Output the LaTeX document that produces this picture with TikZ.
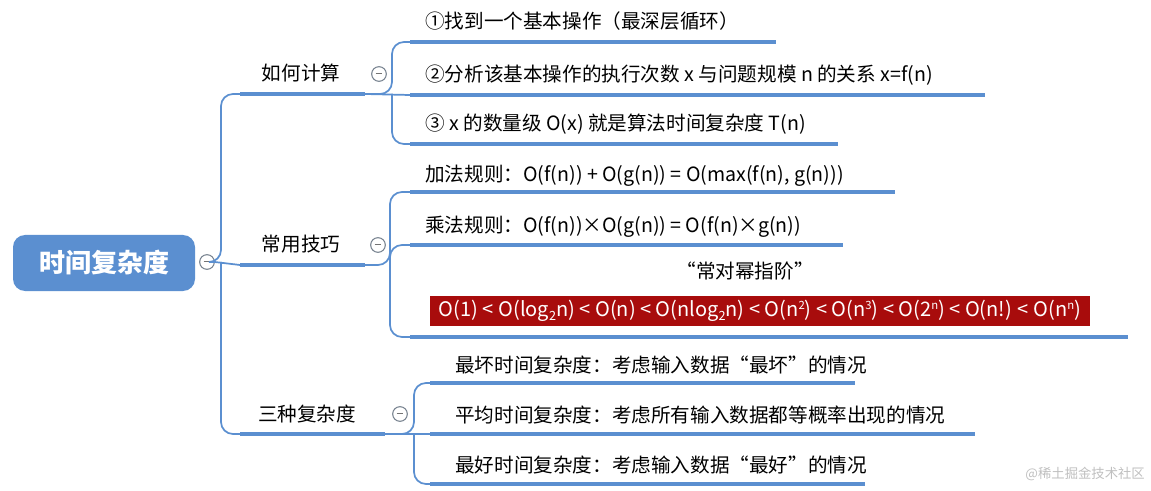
\documentclass[tikz,border=0pt]{standalone}
\usepackage{fontspec}
\setmainfont{Noto Sans CJK SC}
\newcommand{\mysub}[1]{\raisebox{-2.5pt}{\fontsize{9.5}{11}\selectfont #1}}
\newcommand{\mysup}[1]{\raisebox{5.5pt}{\fontsize{8.5}{10}\selectfont #1}}
\begin{document}
\begin{tikzpicture}[x=0.75pt,y=-0.75pt,
  conn/.style={draw=bl,line width=1.3pt,rounded corners=9pt},
  uline/.style={draw=bl,line width=3.6pt},
  minus/.style={circle,draw=gray!80!bl,line width=0.8pt,fill=white,minimum size=11pt,inner sep=0pt,
    label={[gray!90!black]center:\rule[0.3pt]{5pt}{0.9pt}}},
  lbl/.style={anchor=base west,font=\fontsize{14.7}{16}\selectfont,inner sep=0pt},
  grp/.style={anchor=base,font=\fontsize{14.7}{16}\selectfont,inner sep=0pt}]
\definecolor{bl}{HTML}{5B8FD0}
\definecolor{dred}{HTML}{A80C0C}
\useasboundingbox (0,0) rectangle (1151,491);
% root
\node[fill=bl,rounded corners=9pt,minimum width=182*0.75pt,minimum height=56*0.75pt,text=white,
  font=\fontsize{19.5}{22}\selectfont\bfseries] (root) at (104,263) {时间复杂度};
\node[minus] (rc) at (207,262) {};
% group connectors
\coordinate (g1) at (240,94); \coordinate (g2) at (240,265); \coordinate (g3) at (240,434);
\draw[conn] (rc.east) -- (221,262) -- (221,94) -- (g1);
\draw[conn] (rc.east) -- (g2);
\draw[conn] (221,262) -- (221,434) -- (g3);
\coordinate (g1e) at (365,94); \coordinate (g2e) at (365,265); \coordinate (g3e) at (385,434);
\draw[uline] (g1) -- (g1e); \draw[uline] (g2) -- (g2e); \draw[uline] (g3) -- (g3e);
\node[grp] (t1) at (301,81) {如何计算};
\node[grp] (t2) at (301,252) {常用技巧};
\node[grp] (t3) at (307,421) {三种复杂度};
\node[minus] (c1) at (379,74) {};
\node[minus] (c2) at (378,245) {};
\node[minus] (c3) at (400,414) {};
% group 1 leaves
\coordinate (a1) at (410,42); \coordinate (a1e) at (776,42);
\coordinate (a2) at (410,95); \coordinate (a2e) at (985,95);
\coordinate (a3) at (410,144); \coordinate (a3e) at (838,144);
\draw[conn] (g1e) -- (392,94) -- (392,42) -- (a1);
\draw[conn] (g1e) -- (a2);
\draw[conn] (392,94) -- (392,144) -- (a3);
\draw[uline] (a1) -- (a1e); \draw[uline] (a2) -- (a2e); \draw[uline] (a3) -- (a3e);
\node[lbl] (l1) at (425,29) {①找到一个基本操作（最深层循环）};
\node[lbl] (l2) at (425,82) {②分析该基本操作的执行次数 x 与问题规模 n 的关系 x=f(n)};
\node[lbl] (l3) at (425,131) {③ x 的数量级 O(x) 就是算法时间复杂度 T(n)};
% group 2 leaves
\coordinate (b1) at (410,192); \coordinate (b1e) at (895,192);
\coordinate (b2) at (410,245); \coordinate (b2e) at (843,245);
\coordinate (b3) at (410,337); \coordinate (b3e) at (1128,337);
\draw[conn] (g2e) -- (390,265) -- (390,192) -- (b1);
\draw[conn] (390,265) -- (390,245) -- (b2);
\draw[conn] (390,265) -- (390,337) -- (b3);
\draw[uline] (b1) -- (b1e); \draw[uline] (b2) -- (b2e); \draw[uline] (b3) -- (b3e);
\node[lbl] (m1) at (425,182) {加法规则：O(f(n)) + O(g(n)) = O(max(f(n), g(n)))};
\node[lbl] (m2) at (425,233) {乘法规则：O(f(n))×O(g(n)) = O(f(n)×g(n))};
\node[grp] (m3) at (745,279) {“常对幂指阶”};
\node[fill=dred,text=white,minimum width=660*0.75pt,minimum height=30*0.75pt,inner sep=0pt,
  font=\fontsize{15}{17}\selectfont] (m4) at (760,311)
  {O(1) < O(log\mysub{2}n) < O(n) < O(nlog\mysub{2}n) < O(n\mysup{2}) < O(n\mysup{3}) < O(2\mysup{n}) < O(n!) < O(n\mysup{n})};
% group 3 leaves
\coordinate (d1) at (430,383); \coordinate (d1e) at (855,383);
\coordinate (d2) at (430,434); \coordinate (d2e) at (975,434);
\coordinate (d3) at (430,484); \coordinate (d3e) at (865,484);
\draw[conn] (g3e) -- (414,434) -- (414,383) -- (d1);
\draw[conn] (g3e) -- (d2);
\draw[conn] (414,434) -- (414,484) -- (d3);
\draw[uline] (d1) -- (d1e); \draw[uline] (d2) -- (d2e); \draw[uline] (d3) -- (d3e);
\node[lbl] (n1) at (455,372) {最坏时间复杂度：考虑输入数据“最坏”的情况};
\node[lbl] (n2) at (455,422) {平均时间复杂度：考虑所有输入数据都等概率出现的情况};
\node[lbl] (n3) at (455,472) {最好时间复杂度：考虑输入数据“最好”的情况};
\node[anchor=base east,text=gray!50,font=\fontsize{10}{12}\selectfont,inner sep=0pt] (wm) at (1145,478) {@稀土掘金技术社区};
\end{tikzpicture}
\end{document}
